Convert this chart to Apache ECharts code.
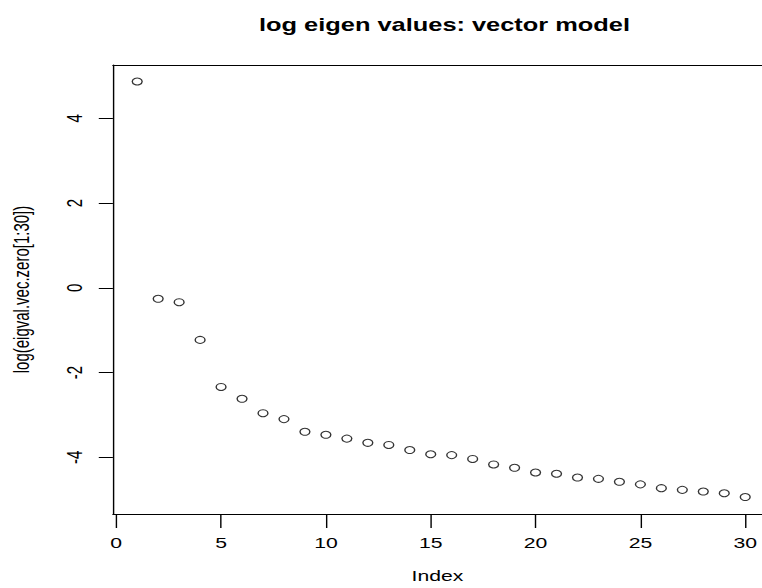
<!DOCTYPE html>
<html>
<head>
<meta charset="utf-8">
<script src="https://cdn.jsdelivr.net/npm/echarts@6/dist/echarts.min.js"></script>
<style>
  html, body { margin:0; padding:0; background:#fff; overflow:hidden; }
  /* the reference is a horizontally stretched R plot, so draw narrow and stretch */
  #chart { width:540px; height:588px; transform:scaleX(1.4111); transform-origin:0 0; }
</style>
</head>
<body>
<div id="chart"></div>
<script>
// index 1..30 and log eigen values
var indexes = [1, 2, 3, 4, 5, 6, 7, 8, 9, 10, 11, 12, 13, 14, 15,
  16, 17, 18, 19, 20, 21, 22, 23, 24, 25, 26, 27, 28, 29, 30];
var logEigen = [
  4.87, -0.26, -0.34, -1.23, -2.34, -2.62, -2.96, -3.10, -3.40, -3.47,
  -3.56, -3.66, -3.71, -3.83, -3.93, -3.95, -4.04, -4.17, -4.25, -4.36,
  -4.39, -4.48, -4.51, -4.58, -4.64, -4.73, -4.77, -4.81, -4.85, -4.94
];
var xTicks = [0, 5, 10, 15, 20, 25, 30];
var yTicks = [-4, -2, 0, 2, 4];

var points = [];
for (var k = 0; k < indexes.length; k++) {
  points.push([indexes[k], logEigen[k]]);
}

var font = "Liberation Sans, Arial, sans-serif";
var chart = echarts.init(document.getElementById("chart"), null, { renderer: "svg" });

var xRange = { min: -0.16, max: 30.8 };

chart.setOption({
  backgroundColor: "#fff",
  animation: false,
  title: {
    text: "log eigen values: vector model",
    left: 310,
    top: 11,
    textAlign: "center",
    textStyle: { fontFamily: font, fontSize: 18, fontWeight: "bold", color: "#000" }
  },
  grid: { left: 78.8, right: 0, top: 65, bottom: 70 },
  xAxis: [{
    type: "value",
    min: xRange.min, max: xRange.max,
    name: "Index",
    nameLocation: "middle",
    nameGap: 54,
    nameTextStyle: { fontFamily: font, fontSize: 15, color: "#000" },
    splitLine: { show: false },
    axisLine: { show: true, onZero: false, lineStyle: { color: "#000", width: 1 } },
    axisTick: { show: true, length: 14, customValues: xTicks, lineStyle: { color: "#000" } },
    axisLabel: {
      customValues: xTicks, margin: 21,
      fontFamily: font, fontSize: 15, color: "#000"
    }
  }, {
    // top edge of the box
    type: "value", position: "top",
    min: xRange.min, max: xRange.max,
    splitLine: { show: false },
    axisLine: { show: true, onZero: false, lineStyle: { color: "#000", width: 1 } },
    axisTick: { show: false },
    axisLabel: { show: false }
  }],
  yAxis: {
    type: "value",
    min: -5.34, max: 5.26,
    name: "log(eigval.vec.zero[1:30])",
    nameLocation: "middle",
    nameGap: 57,
    nameRotate: 90,
    nameTextStyle: { fontFamily: font, fontSize: 15, color: "#000" },
    splitLine: { show: false },
    axisLine: { show: true, onZero: false, lineStyle: { color: "#000", width: 1 } },
    axisTick: { show: true, length: 10, customValues: yTicks, lineStyle: { color: "#000" } },
    axisLabel: {
      customValues: yTicks, margin: 20, rotate: 90,
      fontFamily: font, fontSize: 15, color: "#000"
    }
  },
  series: [{
    type: "scatter",
    data: points,
    symbol: "circle",
    symbolSize: 7,
    itemStyle: { color: "#fff", borderColor: "#000", borderWidth: 1 }
  }]
});
</script>
</body>
</html>
